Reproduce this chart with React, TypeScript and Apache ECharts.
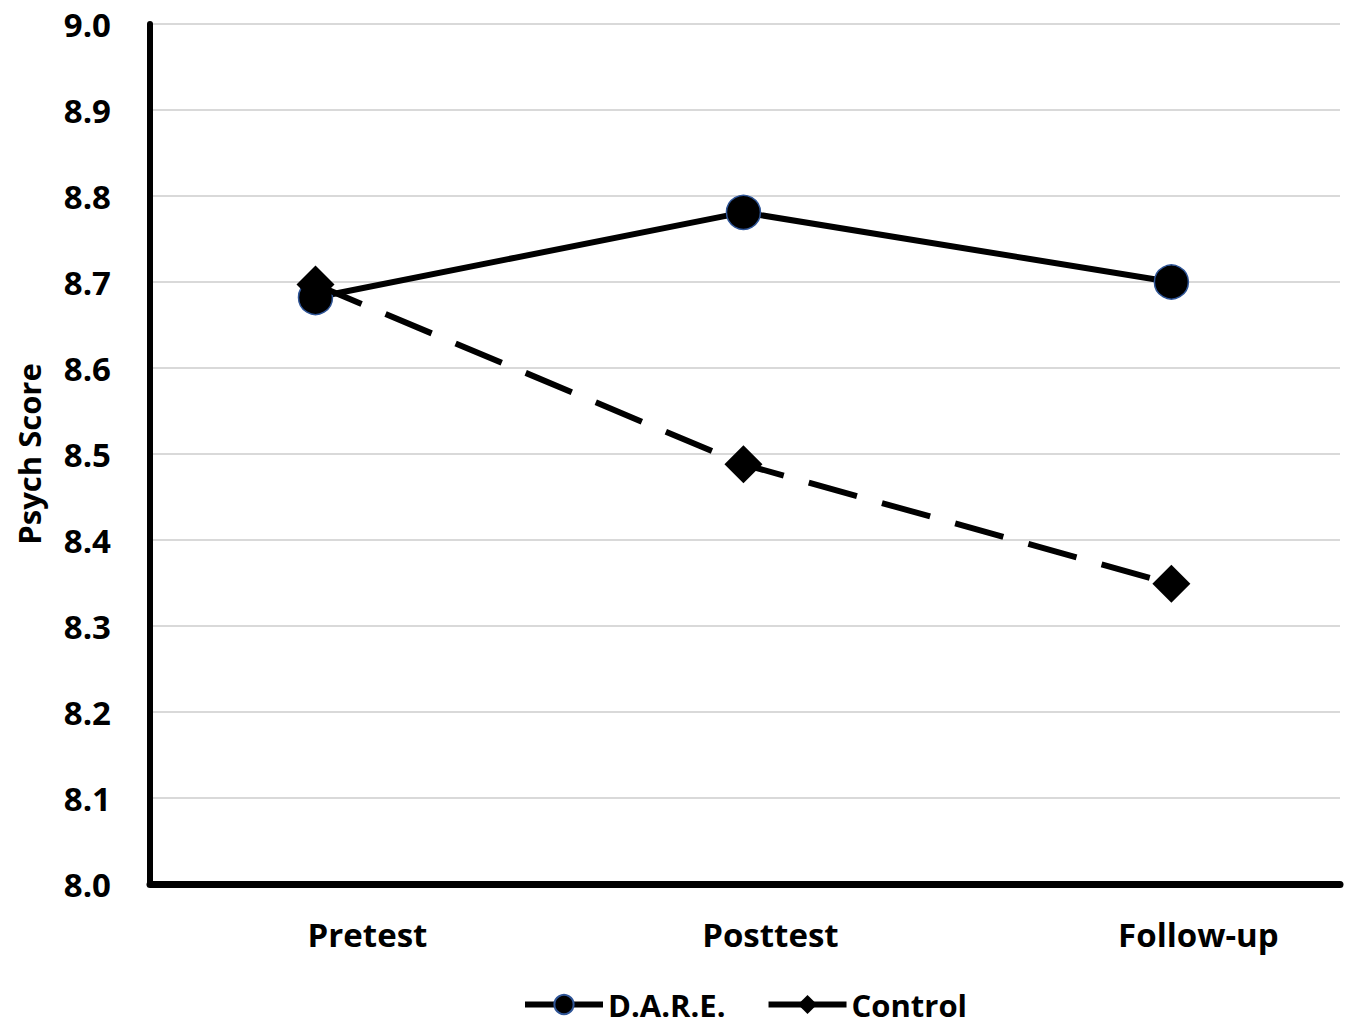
import React, { useEffect, useRef } from "react";
import * as echarts from "echarts";

const categories = ["Pretest", "Posttest", "Follow-up"];
const dareValues = [8.682, 8.781, 8.7];
const controlValues = [8.697, 8.488, 8.349];
const yTicks = [8.0, 8.1, 8.2, 8.3, 8.4, 8.5, 8.6, 8.7, 8.8, 8.9, 9.0];

const FONT = "'Open Sans', 'Noto Sans', sans-serif";
const FS = 33;

export default function App() {
  const ref = useRef<HTMLDivElement>(null);
  useEffect(() => {
    document.body.style.margin = "0";
    const chart = echarts.init(ref.current!, undefined, { renderer: "svg" });
    const labelStyle = { fontSize: FS, fontWeight: "bold", fontFamily: FONT, color: "#000" };
    const option = {
      animation: false,
      backgroundColor: "#ffffff",
      grid: { left: 150, right: 7, top: 24, bottom: 141, containLabel: false },
      xAxis: {
        type: "value",
        min: -0.3867,
        max: 2.394,
        axisLine: { show: true, onZero: false, lineStyle: { color: "#000", width: 7 } },
        axisTick: { show: false },
        splitLine: { show: false },
        axisLabel: {
          customValues: [0, 1, 2],
          margin: 34,
          formatter: (v: number) => {
            const i = Math.round(v);
            if (Math.abs(v - i) > 1e-6 || i < 0 || i >= categories.length) return "";
            return `{p${i}|${categories[i]}}`;
          },
          rich: {
            p0: { ...labelStyle, padding: [0, 0, 0, 104] },
            p1: { ...labelStyle, padding: [0, 0, 0, 54] },
            p2: { ...labelStyle, padding: [0, 0, 0, 54] },
          },
        },
      },
      yAxis: {
        type: "value",
        min: yTicks[0],
        max: yTicks[yTicks.length - 1],
        interval: 0.1,
        name: "Psych Score",
        nameLocation: "middle",
        nameGap: 106,
        nameRotate: 90,
        nameTextStyle: { fontSize: 31, fontWeight: "bold", fontFamily: FONT, color: "#000" },
        axisLine: { show: true, onZero: false, lineStyle: { color: "#000", width: 6 } },
        axisTick: { show: false },
        splitLine: { show: true, lineStyle: { color: "#d9d9d9", width: 2 } },
        axisLabel: {
          margin: 39,
          ...labelStyle,
          formatter: (v: number) => v.toFixed(1),
        },
      },
      legend: {
        left: 522,
        top: 989,
        padding: 0,
        itemWidth: 78,
        itemHeight: 24,
        itemGap: 40,
        textStyle: { ...labelStyle, fontSize: 31 },
        lineStyle: { type: "solid", width: 6, color: "#000" },
        data: ["D.A.R.E.", "Control"],
      },
      series: [
        {
          name: "D.A.R.E.",
          type: "line",
          data: dareValues.map((v, i) => [i, v]),
          symbol: "circle",
          symbolSize: 34,
          lineStyle: { color: "#000", width: 6, type: "solid" },
          itemStyle: { color: "#000", borderColor: "#2f5597", borderWidth: 1.5 },
          z: 2,
        },
        {
          name: "Control",
          type: "line",
          data: controlValues.map((v, i) => [i, v]),
          symbol: "diamond",
          symbolSize: [38, 38],
          lineStyle: { color: "#000", width: 6, type: [50, 26] },
          itemStyle: { color: "#000", borderWidth: 0 },
          z: 3,
        },
      ],
    };
    chart.setOption(option as any);
    return () => chart.dispose();
  }, []);
  return <div ref={ref} style={{ width: 1347, height: 1025 }} />;
}
